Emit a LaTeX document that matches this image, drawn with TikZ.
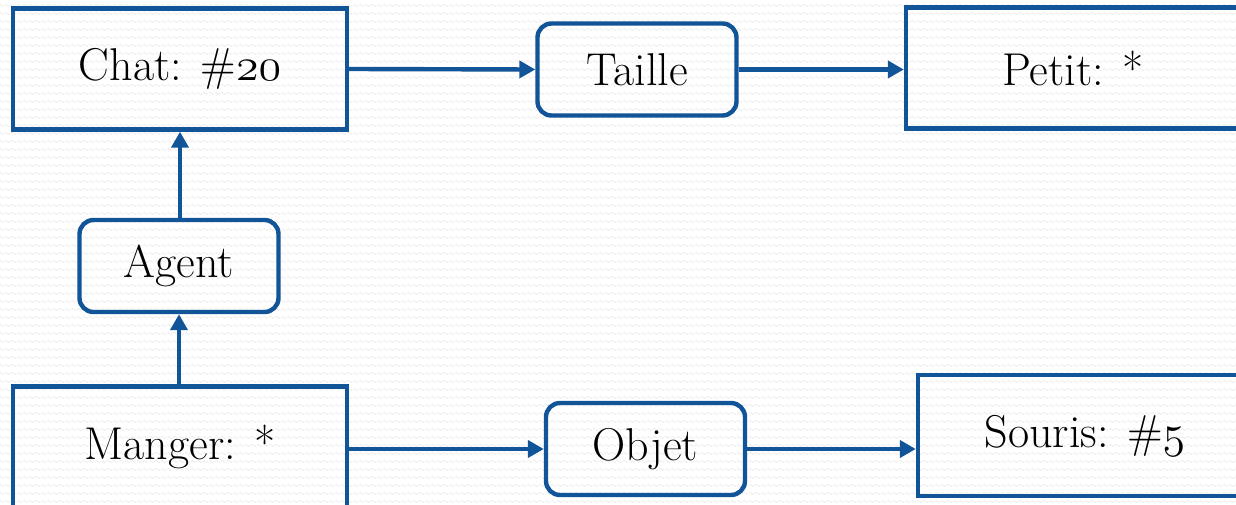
\documentclass[tikz,border=0pt]{standalone}
\usetikzlibrary{arrows.meta,patterns}
\definecolor{cgblue}{RGB}{18,84,152}
\definecolor{paper}{RGB}{232,232,232}
% freely scalable old-style digits
\DeclareFontFamily{OML}{bigcmm}{\skewchar\font'177}
\DeclareFontShape{OML}{bigcmm}{m}{it}{<->cmmi12}{}
\newcommand{\onum}[1]{{\usefont{OML}{bigcmm}{m}{it}#1}}
% small wavy tile for the paper texture
\pgfdeclarepatternformonly{paperweave}{\pgfpoint{0pt}{0pt}}{\pgfpoint{6pt}{8pt}}{\pgfpoint{6pt}{8pt}}{
  \pgfsetlinewidth{0.6pt}
  \pgfpathmoveto{\pgfpoint{0pt}{4pt}}
  \pgfpathcurveto{\pgfpoint{1pt}{5.6pt}}{\pgfpoint{2pt}{5.6pt}}{\pgfpoint{3pt}{4pt}}
  \pgfpathcurveto{\pgfpoint{4pt}{2.4pt}}{\pgfpoint{5pt}{2.4pt}}{\pgfpoint{6pt}{4pt}}
  \pgfusepath{stroke}
}
\tikzset{
  label font/.style={font=\fontsize{46}{54}\selectfont},
  concept/.style={draw=cgblue, line width=4.4pt, minimum width=334pt, minimum height=121pt,
    inner sep=0pt, label font},
  relation/.style={draw=cgblue, line width=4.4pt, rounded corners=14pt, minimum width=199pt,
    minimum height=92pt, inner sep=0pt, label font},
  link/.style={draw=cgblue, line width=4.4pt, -{Triangle[length=16pt,width=17pt]}}
}
\begin{document}
\begin{tikzpicture}[x=1pt,y=-1pt]
  \useasboundingbox (0,0) rectangle (1236,505);
  \clip (0,0) rectangle (1236,505);
  \fill[white] (0,0) rectangle (1236,505);
  % faint paper texture
  \fill[pattern=paperweave, pattern color=paper] (0,0) rectangle (1236,505);
  % concepts
  \node[concept] (chat)   at (180,69)    {Chat: \#\onum{20}};
  \node[concept] (petit)  at (1073,68)   {Petit: *};
  \node[concept] (manger) at (180,447)   {Manger: *};
  \node[concept] (souris) at (1085,435.5){Souris: \#\onum{5}};
  % relations
  \node[relation] (taille) at (637,69.5) {Taille};
  \node[relation] (agent)  at (179,266)  {Agent};
  \node[relation] (objet)  at (645.5,449){Objet};
  % connectors
  \draw[link] (chat.east) -- (taille.west);
  \draw[link] (taille.east) -- (taille.east -| petit.west);
  \draw[link] (agent.north -| chat.south) -- (chat.south);
  \draw[link] (manger.north -| agent.south) -- (agent.south);
  \draw[link] (manger.east |- objet.west) -- (objet.west);
  \draw[link] (objet.east) -- (objet.east -| souris.west);
\end{tikzpicture}
\end{document}
